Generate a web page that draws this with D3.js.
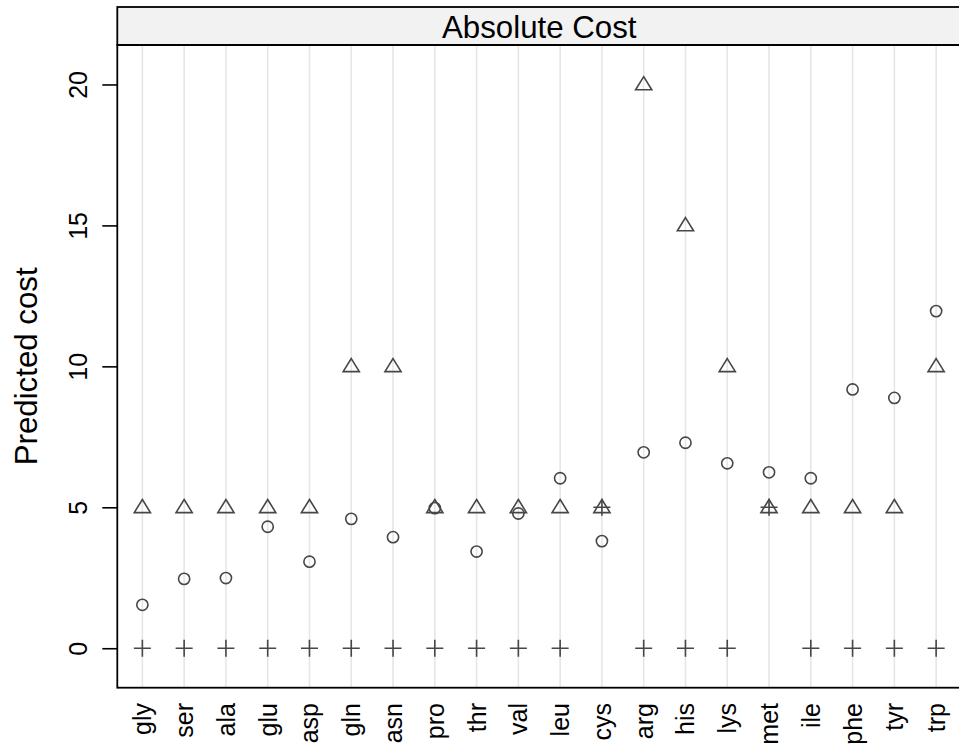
<!DOCTYPE html>
<html>
<head>
<meta charset="utf-8">
<script src="https://cdn.jsdelivr.net/npm/d3@7"></script>
<style>
  body { margin: 0; background: #ffffff; }
  svg { display: block; font-family: "Liberation Sans", Arial, Helvetica, sans-serif; }
</style>
</head>
<body>
<svg id="costPlot"></svg>
<script>
// Absolute Cost dot plot

let aminoAcids = ["gly", "ser", "ala", "glu", "asp", "gln", "asn", "pro", "thr", "val",
  "leu", "cys", "arg", "his", "lys", "met", "ile", "phe", "tyr", "trp"];
// Circles.
let predictedCost = [1.54, 2.46, 2.49, 4.31, 3.07, 4.59, 3.94, 4.97, 3.43, 4.78,
  6.03, 3.80, 6.95, 7.29, 6.56, 6.24, 6.03, 9.18, 8.88, 11.96];
// Triangles.
let triangleCost = [5, 5, 5, 5, 5, 10, 10, 5, 5, 5,
  5, 5, 20, 15, 10, 5, 5, 5, 5, 10];
// Plus signs.
let plusCost = [0, 0, 0, 0, 0, 0, 0, 0, 0, 0,
  0, 5, 0, 0, 0, 5, 0, 0, 0, 0];
let yTicks = [0, 5, 10, 15, 20];
let stripTitle = "Absolute Cost";
let yTitle = "Predicted cost";

function drawPlot(){
  let width = 959;
  let height = 745;
  let svg = d3.select('#costPlot')
    .attr("width", width)
    .attr("height", height);

  // Panel box (the right edge falls just outside the picture).
  let panel = {left: 117.3, right: 961.2, top: 45, bottom: 687.7, stripTop: 7};
  let symbolColor = "#474747";

  let xScale = d3.scalePoint()
    .domain(aminoAcids)
    .range([panel.left, panel.right])
    .padding(0.6);
  let yScale = d3.scaleLinear()
    .domain([-1.4, 21.4])
    .range([panel.bottom, panel.top]);

  // Vertical reference lines for every category.
  svg.append('g')
    .selectAll('line')
    .data(aminoAcids)
    .join('line')
    .attr("x1", d => xScale(d))
    .attr("x2", d => xScale(d))
    .attr("y1", panel.top)
    .attr("y2", panel.bottom)
    .attr("stroke", "#e6e6e6")
    .attr("stroke-width", 1.6);

  // Circles.
  svg.append('g')
    .selectAll('circle')
    .data(predictedCost)
    .join('circle')
    .attr("cx", (d, i) => xScale(aminoAcids[i]))
    .attr("cy", d => yScale(d))
    .attr("r", 5.6)
    .attr("fill", "none")
    .attr("stroke", symbolColor)
    .attr("stroke-width", 1.6);

  // Triangles.
  svg.append('g')
    .selectAll('path')
    .data(triangleCost)
    .join('path')
    .attr("transform", (d, i) => `translate(${xScale(aminoAcids[i])},${yScale(d)})`)
    .attr("d", "M0,-7.8L8.1,5.3L-8.1,5.3Z")
    .attr("fill", "none")
    .attr("stroke", symbolColor)
    .attr("stroke-width", 1.6)
    .attr("stroke-linejoin", "miter");

  // Plus signs.
  svg.append('g')
    .selectAll('path')
    .data(plusCost)
    .join('path')
    .attr("transform", (d, i) => `translate(${xScale(aminoAcids[i])},${yScale(d)})`)
    .attr("d", "M-8.5,0H8.5M0,-8.5V8.5")
    .attr("fill", "none")
    .attr("stroke", symbolColor)
    .attr("stroke-width", 1.6);

  // Strip on top of the panel.
  svg.append('rect')
    .attr("x", panel.left)
    .attr("y", panel.stripTop)
    .attr("width", panel.right - panel.left)
    .attr("height", panel.top - panel.stripTop)
    .attr("fill", "#f2f2f2")
    .attr("stroke", "#000")
    .attr("stroke-width", 1.8);
  svg.append('text')
    .attr("x", (panel.left + panel.right) / 2)
    .attr("y", 38.3)
    .attr("text-anchor", "middle")
    .attr("font-size", 31.25)
    .attr("fill", "#000")
    .text(stripTitle);

  // Panel border.
  svg.append('rect')
    .attr("x", panel.left)
    .attr("y", panel.top)
    .attr("width", panel.right - panel.left)
    .attr("height", panel.bottom - panel.top)
    .attr("fill", "none")
    .attr("stroke", "#000")
    .attr("stroke-width", 1.8);

  // Y axis with rotated labels.
  let yAxisGenerator = d3.axisLeft(yScale)
    .tickValues(yTicks)
    .tickSize(15)
    .tickSizeOuter(0);
  let yAxis = svg.append('g')
    .attr("transform", `translate(${panel.left},0)`)
    .call(yAxisGenerator);
  yAxis.select('.domain').remove();
  yAxis.selectAll('line')
    .attr("stroke", "#000")
    .attr("stroke-width", 1.6);
  yAxis.selectAll('text')
    .attr("x", 0)
    .attr("dy", 0)
    .attr("transform", "translate(-30,0) rotate(-90)")
    .attr("text-anchor", "middle")
    .attr("font-size", 25)
    .attr("font-family", null)
    .attr("fill", "#000");

  // Category labels below the panel, rotated, top aligned.
  svg.append('g')
    .selectAll('text')
    .data(aminoAcids)
    .join('text')
    .attr("transform", d => `translate(${xScale(d) + 9},703) rotate(-90)`)
    .attr("text-anchor", "end")
    .attr("font-size", 25)
    .attr("fill", "#000")
    .text(d => d);

  // Y axis title.
  svg.append('text')
    .attr("transform", `translate(37,${(panel.top + panel.bottom) / 2}) rotate(-90)`)
    .attr("text-anchor", "middle")
    .attr("font-size", 31.25)
    .attr("fill", "#000")
    .text(yTitle);
}

drawPlot();
</script>
</body>
</html>
